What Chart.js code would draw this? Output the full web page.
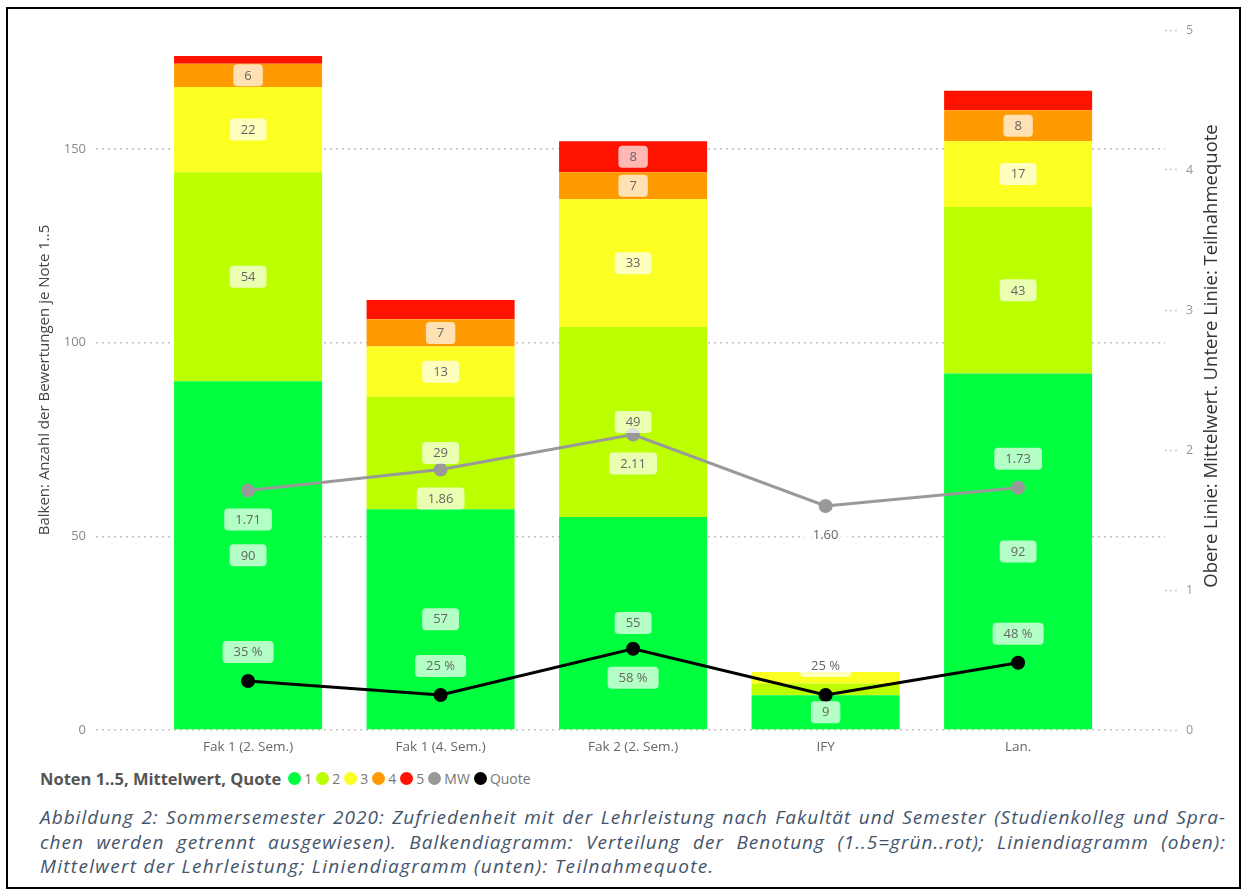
<!DOCTYPE html>
<html lang="de">
<head>
<meta charset="utf-8">
<title>Zufriedenheit mit der Lehrleistung – Sommersemester 2020</title>
<script src="https://cdn.jsdelivr.net/npm/chart.js@4.4.1/dist/chart.umd.min.js"></script>
<style>
  html, body { margin: 0; padding: 0; background: #fff; }
  body { width: 1245px; height: 892px; position: relative; overflow: hidden; font-family: "Open Sans", "Noto Sans", sans-serif; }
  #frame { position: absolute; left: 6px; top: 7px; width: 1231px; height: 878px; border: 2px solid #000; box-sizing: content-box; }
  #chartWrap { position: absolute; left: 10px; top: 10px; width: 1228px; height: 755px; }
  #legend { position: absolute; left: 40px; top: 767px; height: 22px; display: flex; align-items: center; font-size: 14px; color: #777; white-space: nowrap; }
  #legend .title { font-weight: bold; font-size: 16.5px; color: #555; margin-right: 7px; }
  #legend .item { display: flex; align-items: center; margin-right: 4px; }
  #legend .dot { width: 13px; height: 13px; border-radius: 50%; margin-right: 3px; }
  #caption { position: absolute; left: 40px; top: 805px; width: 1186px; font-style: italic; font-size: 19px; letter-spacing: 1.3px; line-height: 24.5px; color: #44546A; font-family: "Open Sans", "Noto Sans", sans-serif; }
  #caption span { display: block; white-space: nowrap; }
  #caption span.just { text-align: justify; text-align-last: justify; letter-spacing: 1px; word-spacing: -2px; }
</style>
</head>
<body>
<div id="frame"></div>
<div id="chartWrap"><canvas id="chart"></canvas></div>
<div id="legend"></div>
<div id="caption">
  <span class="just">Abbildung 2: Sommersemester 2020: Zufriedenheit mit der Lehrleistung nach Fakultät und Semester (Studienkolleg und Spra-</span>
  <span class="just">chen werden getrennt ausgewiesen). Balkendiagramm: Verteilung der Benotung (1..5=grün..rot); Liniendiagramm (oben):</span>
  <span>Mittelwert der Lehrleistung; Liniendiagramm (unten): Teilnahmequote.</span>
</div>

<script>
// Kategorien (Fakultät / Semester)
const categories = ['Fak 1 (2. Sem.)', 'Fak 1 (4. Sem.)', 'Fak 2 (2. Sem.)', 'IFY', 'Lan.'];

// Anzahl der Bewertungen je Note
const note1 = [90, 57, 55, 9, 92];
const note2 = [54, 29, 49, 3, 43];
const note3 = [22, 13, 33, 3, 17];
const note4 = [6, 7, 7, 0, 8];
const note5 = [2, 5, 8, 0, 5];

// Mittelwert der Lehrleistung und Teilnahmequote (rechte Achse)
const mittelwert = [1.71, 1.86, 2.11, 1.60, 1.73];
const quote = [0.35, 0.25, 0.58, 0.25, 0.48];

// Achsenbeschriftungen
const leftTicks = [0, 50, 100, 150];
const rightTicks = [0, 1, 2, 3, 4, 5];
const gradeNames = ['1', '2', '3', '4', '5'];
const leftTitle = 'Balken: Anzahl der Bewertungen je Note 1..5';
const rightTitle = 'Obere Linie: Mittelwert. Untere Linie: Teilnahmequote';
const legendTitle = 'Noten 1..5, Mittelwert, Quote';

// Darstellung
const gradeColors = ['#00FF3E', '#BBFF00', '#FCFF22', '#FF9A00', '#FF1300'];
const mwColor = '#999999';
const quoteColor = '#000000';
const mwLabelPos = ['below', 'below', 'below', 'below', 'above'];
const quoteLabelPos = ['above', 'above', 'below', 'above', 'above'];
const MIN_BAR_LABEL = 6;   // kleinere Segmente bleiben ohne Beschriftung
const LABEL_GAP = 29;
const FONT = '"Open Sans", "Noto Sans", sans-serif';

const toPoints = arr => arr.map((v, i) => ({ x: i, y: v }));
const gradeSeries = [note1, note2, note3, note4, note5];

const barDatasets = gradeSeries.map((values, g) => ({
  type: 'bar',
  label: gradeNames[g],
  data: toPoints(values),
  backgroundColor: gradeColors[g],
  borderWidth: 0,
  barPercentage: 1,
  categoryPercentage: 0.769,
  yAxisID: 'y',
  stack: 'noten',
  order: 2
}));

const lineDatasets = [
  {
    type: 'line', label: 'MW', data: toPoints(mittelwert), yAxisID: 'y1',
    borderColor: mwColor, backgroundColor: mwColor, pointBackgroundColor: mwColor,
    borderWidth: 3, pointRadius: 7, pointBorderWidth: 0, tension: 0, order: 1,
    labelPos: mwLabelPos, format: v => v.toFixed(2)
  },
  {
    type: 'line', label: 'Quote', data: toPoints(quote), yAxisID: 'y1',
    borderColor: quoteColor, backgroundColor: quoteColor, pointBackgroundColor: quoteColor,
    borderWidth: 3, pointRadius: 7, pointBorderWidth: 0, tension: 0, order: 0,
    labelPos: quoteLabelPos, format: v => Math.round(v * 100) + ' %'
  }
];

function roundRect(ctx, x, y, w, h, r) {
  ctx.beginPath();
  ctx.moveTo(x + r, y);
  ctx.lineTo(x + w - r, y);
  ctx.quadraticCurveTo(x + w, y, x + w, y + r);
  ctx.lineTo(x + w, y + h - r);
  ctx.quadraticCurveTo(x + w, y + h, x + w - r, y + h);
  ctx.lineTo(x + r, y + h);
  ctx.quadraticCurveTo(x, y + h, x, y + h - r);
  ctx.lineTo(x, y + r);
  ctx.quadraticCurveTo(x, y, x + r, y);
  ctx.closePath();
}

// Wertebeschriftungen mit halbtransparentem Hintergrund
const valueLabels = {
  id: 'valueLabels',
  afterDatasetsDraw(chart) {
    const ctx = chart.ctx;
    ctx.save();
    ctx.font = '13px ' + FONT;
    ctx.textAlign = 'center';
    ctx.textBaseline = 'middle';
    const draw = (x, y, text) => {
      const w = ctx.measureText(text).width + 22;
      const h = 22;
      roundRect(ctx, x - w / 2, y - h / 2, w, h, 4);
      ctx.fillStyle = 'rgba(255,255,255,0.7)';
      ctx.fill();
      ctx.fillStyle = '#666';
      ctx.fillText(text, x, y + 0.5);
    };
    chart.data.datasets.forEach((ds, di) => {
      const meta = chart.getDatasetMeta(di);
      if (!chart.isDatasetVisible(di)) return;
      meta.data.forEach((el, i) => {
        const v = ds.data[i].y;
        if (meta.type === 'bar') {
          if (v < MIN_BAR_LABEL) return;
          draw(el.x, (el.y + el.base) / 2, String(v));
        } else {
          const dy = ds.labelPos[i] === 'above' ? -LABEL_GAP : LABEL_GAP;
          draw(el.x, el.y + dy, ds.format(v));
        }
      });
    });
    ctx.restore();
  }
};

// Titel der rechten Achse, von unten nach oben gelesen
const rightAxisTitle = {
  id: 'rightAxisTitle',
  afterDraw(chart) {
    const ctx = chart.ctx;
    const a = chart.chartArea;
    ctx.save();
    ctx.translate(chart.width - 26, (a.top + a.bottom) / 2 - 24);
    ctx.rotate(-Math.PI / 2);
    ctx.font = '18.5px ' + FONT;
    ctx.fillStyle = '#333';
    ctx.textAlign = 'center';
    ctx.textBaseline = 'middle';
    ctx.fillText(rightTitle, 0, 0);
    ctx.restore();
  }
};

const chart = new Chart(document.getElementById('chart'), {
  type: 'bar',
  data: { datasets: [...lineDatasets, ...barDatasets] },
  plugins: [valueLabels, rightAxisTitle],
  options: {
    responsive: true,
    maintainAspectRatio: false,
    animation: false,
    layout: { padding: { top: 20, left: 0, right: 0, bottom: 0 } },
    plugins: { legend: { display: false }, tooltip: { enabled: false } },
    scales: {
      x: {
        type: 'linear', min: -0.79, max: 4.763, stacked: true, offset: false,
        grid: { display: false }, border: { display: false },
        afterBuildTicks: s => { s.ticks = categories.map((_, i) => ({ value: i })); },
        afterFit: s => { s.height = 35; },
        ticks: {
          callback: v => categories[v], color: '#666', padding: 1,
          maxRotation: 0, autoSkip: false, font: { family: FONT, size: 13.5 }
        }
      },
      y: {
        position: 'left', min: 0, max: 180.7, stacked: true,
        afterBuildTicks: s => { s.ticks = leftTicks.map(v => ({ value: v })); },
        afterFit: s => { s.width = 86; },
        grid: { color: '#c2c2c2', lineWidth: 1.5, drawTicks: false },
        border: { display: false, dash: [2, 4] },
        ticks: { color: '#888', padding: 10, font: { family: FONT, size: 13 } },
        title: { display: true, text: leftTitle, color: '#444', padding: { top: 26 }, font: { family: FONT, size: 15 } }
      },
      y1: {
        position: 'right', min: 0, max: 5,
        afterBuildTicks: s => { s.ticks = rightTicks.map(v => ({ value: v })); },
        afterFit: s => { s.width = 73; },
        grid: { drawOnChartArea: false, drawTicks: true, tickLength: 12, tickColor: '#ccc', tickBorderDash: [2, 3], tickWidth: 1.5 },
        border: { display: false },
        ticks: { color: '#999', padding: 9, font: { family: FONT, size: 12.5 } }
      }
    }
  }
});

// Legende aus denselben Reihen aufbauen
const legendEl = document.getElementById('legend');
const t = document.createElement('span');
t.className = 'title';
t.textContent = legendTitle;
legendEl.appendChild(t);
const legendItems = gradeNames.map((n, g) => [n, gradeColors[g]]).concat([['MW', mwColor], ['Quote', quoteColor]]);
legendItems.forEach(([name, color]) => {
  const it = document.createElement('span');
  it.className = 'item';
  const d = document.createElement('span');
  d.className = 'dot';
  d.style.background = color;
  const l = document.createElement('span');
  l.textContent = name;
  it.appendChild(d); it.appendChild(l);
  legendEl.appendChild(it);
});
</script>
</body>
</html>
